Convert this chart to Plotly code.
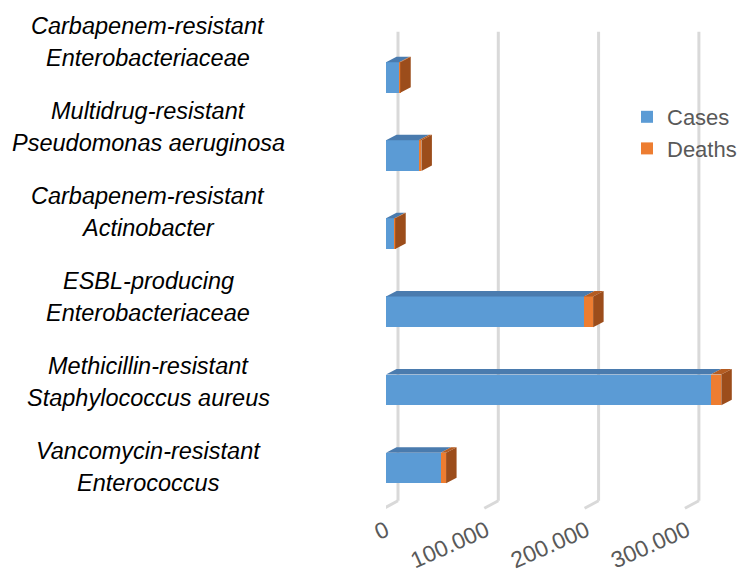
import plotly.graph_objects as go

# Data (bottom to top); each label is split into its two lines
pathogen_line1 = [
    "Vancomycin-resistant",
    "Methicillin-resistant",
    "ESBL-producing",
    "Carbapenem-resistant",
    "Multidrug-resistant",
    "Carbapenem-resistant",
]
pathogen_line2 = [
    "Enterococcus",
    "Staphylococcus aureus",
    "Enterobacteriaceae",
    "Actinobacter",
    "Pseudomonas aeruginosa",
    "Enterobacteriaceae",
]
cases = [54500, 323700, 197400, 8500, 32600, 13100]
deaths = [5400, 10600, 9100, 700, 2700, 1100]
tick_values = [0, 100000, 200000, 300000]
tick_labels = ["0", "100.000", "200.000", "300.000"]

# Colours
BLUE, ORANGE = "#5B9BD5", "#ED7D31"
BLUE_TOP, ORANGE_TOP, ORANGE_SIDE = "#4A7BAE", "#B45C22", "#9C4D1B"
GRID = "#D9D9D9"
TEXT_GREY = "#595959"
FONT = "Liberation Sans, Arial, sans-serif"

# Page geometry (pixels)
W, H = 743, 572
X0_PX = 386            # where value 0 sits on the bar front faces
PX_PER_UNIT = 1.003 / 1000
Y_AXIS_BOTTOM_PX = 512
CAT_PX = 78.1          # distance between bar rows
FIRST_ROW_PX = 468     # centre of the lowest bar row
LABEL_STEP_PX = 85.1   # distance between category label rows
FIRST_LABEL_PX = 467
LABEL_CENTER_X = 148
LABEL_LINE_GAP = 32

x_range = [0, (W - X0_PX) / PX_PER_UNIT]
y_range = [(FIRST_ROW_PX - Y_AXIS_BOTTOM_PX) / CAT_PX, FIRST_ROW_PX / CAT_PX]
y2_range = [(FIRST_LABEL_PX - Y_AXIS_BOTTOM_PX) / LABEL_STEP_PX, FIRST_LABEL_PX / LABEL_STEP_PX]
y_domain = [(H - Y_AXIS_BOTTOM_PX) / H, 1]


def dx(px):
    return px / PX_PER_UNIT


def dy(px):
    # pixels measured downward on the page -> row units upward
    return -px / CAT_PX


def row(px):
    return (FIRST_ROW_PX - px) / CAT_PX


BAR_W = 30.7 / CAT_PX
DEPTH_X, DEPTH_Y = dx(10.5), dy(-5.5)

rows = list(range(len(cases)))

fig = go.Figure()
fig.add_trace(go.Bar(name="Cases", y=rows, x=cases, orientation="h", width=BAR_W,
                     marker=dict(color=BLUE, line=dict(width=0))))
fig.add_trace(go.Bar(name="Deaths", y=rows, x=deaths, orientation="h", width=BAR_W,
                     marker=dict(color=ORANGE, line=dict(width=0))))


def polys(faces):
    xs, ys = [], []
    for pts in faces:
        for px_, py_ in pts + [pts[0]]:
            xs.append(px_)
            ys.append(py_)
        xs.append(None)
        ys.append(None)
    return xs, ys


top_cases, top_deaths, side = [], [], []
for i, c, d in zip(rows, cases, deaths):
    yt, yb = i + BAR_W / 2, i - BAR_W / 2
    tot = c + d
    top_cases.append([(0, yt), (c, yt), (c + DEPTH_X, yt + DEPTH_Y), (DEPTH_X, yt + DEPTH_Y)])
    top_deaths.append([(c, yt), (tot, yt), (tot + DEPTH_X, yt + DEPTH_Y), (c + DEPTH_X, yt + DEPTH_Y)])
    side.append([(tot, yb), (tot, yt), (tot + DEPTH_X, yt + DEPTH_Y), (tot + DEPTH_X, yb + DEPTH_Y)])

for faces, col in [(top_cases, BLUE_TOP), (top_deaths, ORANGE_TOP), (side, ORANGE_SIDE)]:
    xs, ys = polys(faces)
    fig.add_trace(go.Scatter(x=xs, y=ys, mode="lines", fill="toself", fillcolor=col,
                             line=dict(width=0, color=col), showlegend=False, hoverinfo="skip"))

# invisible trace carrying the label axis
fig.add_trace(go.Scatter(x=[0] * len(rows), y=rows, yaxis="y2", mode="markers",
                         marker=dict(opacity=0), showlegend=False, hoverinfo="skip"))

# back-wall gridlines with floor segments
shapes = []
for v in tick_values:
    bx = v + dx(12)
    shapes.append(dict(type="line", xref="x", yref="y", x0=bx, x1=bx, y0=row(31.7), y1=row(500.7),
                       line=dict(color=GRID, width=3), layer="below"))
    shapes.append(dict(type="line", xref="x", yref="y", x0=bx, x1=v - dx(2), y0=row(500.7), y1=row(508.3),
                       line=dict(color=GRID, width=3), layer="below"))

annotations = []
label_font = dict(family=FONT, size=23.5, color="#000000", style="italic")
for i, l1, l2 in zip(rows, pathogen_line1, pathogen_line2):
    for text, shift in [(l1, LABEL_LINE_GAP / 2), (l2, -LABEL_LINE_GAP / 2)]:
        annotations.append(dict(x=LABEL_CENTER_X / W, xref="paper", y=i, yref="y2", text=text,
                                showarrow=False, xanchor="center", yanchor="middle",
                                yshift=shift, font=label_font))

fig.update_layout(
    width=W, height=H,
    margin=dict(l=0, r=0, t=0, b=0, autoexpand=False),
    paper_bgcolor="white", plot_bgcolor="white",
    barmode="stack", bargap=0,
    shapes=shapes, annotations=annotations,
    showlegend=True,
    legend=dict(x=627 / W, y=1 - 96 / H, xanchor="left", yanchor="top", traceorder="normal",
                bgcolor="rgba(0,0,0,0)", itemwidth=30, tracegroupgap=0,
                font=dict(family=FONT, size=22, color=TEXT_GREY)),
    xaxis=dict(domain=[X0_PX / W, 1], range=x_range, showgrid=False, zeroline=False,
               showline=False, tickvals=tick_values, ticktext=tick_labels, tickangle=-24,
               ticks="", ticklabelstandoff=0,
               tickfont=dict(family=FONT, size=23, color=TEXT_GREY)),
    yaxis=dict(domain=y_domain, range=y_range, showgrid=False, zeroline=False, showline=False,
               showticklabels=False, ticks=""),
    yaxis2=dict(overlaying="y", range=y2_range, showgrid=False, zeroline=False, showline=False,
                showticklabels=False, ticks=""),
)

fig.write_html("out.html")
